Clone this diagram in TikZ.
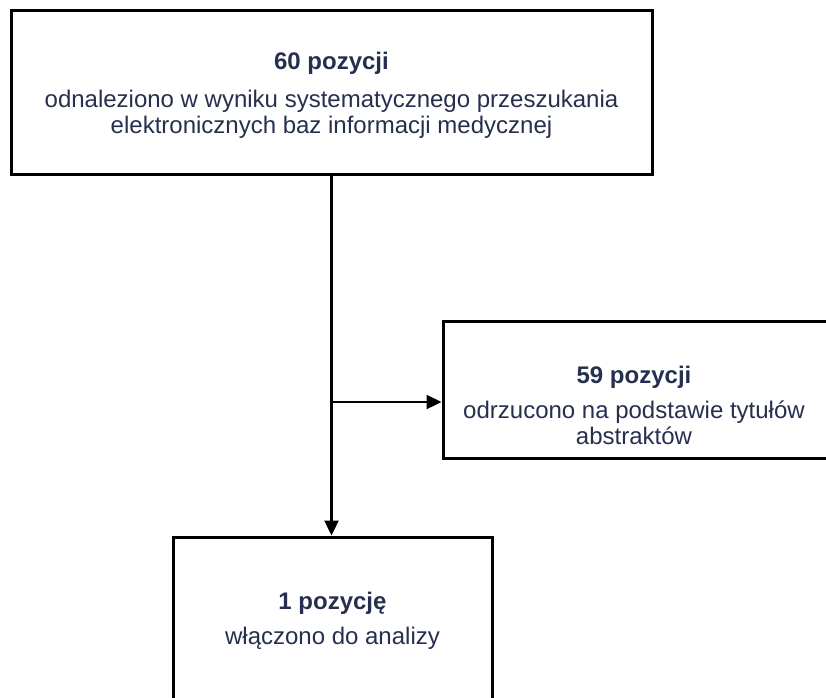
\documentclass[tikz,border=0pt]{standalone}
\usepackage{fontspec}
\setmainfont{Liberation Sans}
\usetikzlibrary{positioning,arrows.meta}
\definecolor{Ink}{RGB}{38, 48, 78}

\begin{document}
\begin{tikzpicture}[x=1pt,y=-1pt,
    box/.style={draw,line width=3pt,fill=white},
    txt/.style={text=Ink,align=center,inner sep=0pt,
      font=\fontsize{24}{26}\selectfont},
    flow/.style={line width=2.3pt,-{Triangle[length=15pt,width=14pt]}}]
  \useasboundingbox (0,0) rectangle (826,697);
  \clip (0,0) rectangle (826,697);
  \fill[white] (0,0) rectangle (826,697);
  % boxes
  \node[box,minimum width=641pt,minimum height=164pt] (found) at (331.5,92) {};
  \node[box,minimum width=420pt,minimum height=137pt] (rejected) at (653,389.5) {};
  \node[box,minimum width=319pt,minimum height=200pt] (included) at (332.5,637) {};
  % texts
  \node[txt] (foundtxt) at (331.5,95)
    {\textbf{60 pozycji}\\[12pt]odnaleziono w wyniku systematycznego przeszukania\\elektronicznych baz informacji medycznej};
  \node[txt] (rejectedtxt) at (634,405)
    {\textbf{59 pozycji}\\[9pt]odrzucono na podstawie tytułów\\abstraktów};
  \node[txt] (includedtxt) at (332.5,621)
    {\textbf{1 pozycję}\\[9pt]włączono do analizy};
  % connectors
  \coordinate (split) at (found.south |- 0,402);
  \draw[flow] (found.south) -- (found.south |- included.north);
  \draw[flow] (split) -- (split -| rejected.west);
\end{tikzpicture}
\end{document}
